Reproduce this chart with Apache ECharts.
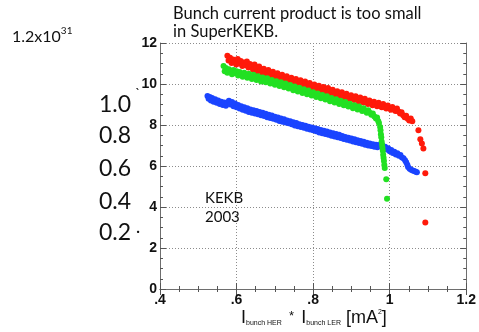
<!DOCTYPE html>
<html>
<head>
<meta charset="utf-8">
<script src="https://cdn.jsdelivr.net/npm/echarts@6/dist/echarts.min.js"></script>
<style>
html,body{margin:0;padding:0;background:#fff;}
#c{width:479px;height:332px;}
</style>
</head>
<body>
<div id="c"></div>
<script>
const titleLines = ['Bunch current product is too small', 'in SuperKEKB.'];
const unitMantissa = '1.2x10';
const unitExponent = '31';
const leftScaleLabels = ['1.0', '0.8', '0.6', '0.4', '0.2'];
const noteLines = ['KEKB', '2003'];
const xTickLabels = ['.4', '.6', '.8', '1', '1.2'];
const yTickLabels = ['0', '2', '4', '6', '8', '10', '12'];

const redData = [
[0.576,11.38],[0.579,11.15],[0.583,11.28],[0.587,11.02],[0.591,11.2],[0.595,11.08],[0.599,10.95],[0.603,11.22],[0.607,11.0],[0.611,11.12],
[0.615,10.88],[0.619,11.05],[0.623,10.92],[0.627,11.1],[0.631,10.8],[0.635,10.98],[0.639,10.86],[0.643,10.7],[0.647,10.95],[0.651,10.78],
[0.655,10.62],[0.659,10.85],[0.663,10.7],[0.667,10.55],[0.671,10.75],[0.675,10.6],[0.679,10.48],[0.683,10.68],[0.687,10.52],[0.691,10.4],
[0.695,10.6],[0.699,10.45],[0.703,10.32],[0.707,10.52],[0.711,10.38],[0.715,10.25],[0.719,10.45],[0.723,10.3],[0.727,10.18],[0.731,10.38],
[0.735,10.22],[0.739,10.12],[0.743,10.3],[0.747,10.15],[0.751,10.05],[0.755,10.25],[0.759,10.1],[0.763,9.98],[0.767,10.18],[0.771,10.02],
[0.775,9.92],[0.779,10.12],[0.783,9.96],[0.787,9.85],[0.791,10.05],[0.795,9.9],[0.799,9.8],[0.803,9.98],[0.807,9.84],[0.811,9.72],
[0.815,9.92],[0.819,9.78],[0.823,9.66],[0.827,9.85],[0.831,9.7],[0.835,9.6],[0.839,9.8],[0.843,9.64],[0.847,9.52],[0.851,9.72],
[0.855,9.58],[0.859,9.46],[0.863,9.65],[0.867,9.5],[0.871,9.4],[0.875,9.6],[0.879,9.45],[0.883,9.33],[0.887,9.52],[0.891,9.38],
[0.895,9.28],[0.899,9.45],[0.903,9.32],[0.907,9.22],[0.911,9.4],[0.915,9.26],[0.919,9.16],[0.923,9.34],[0.927,9.2],[0.931,9.1],
[0.935,9.28],[0.939,9.12],[0.943,9.02],[0.947,9.2],[0.951,9.06],[0.955,8.96],[0.959,9.14],[0.963,9.0],[0.967,8.92],[0.971,9.08],
[0.975,8.94],[0.979,8.86],[0.983,9.02],[0.987,8.88],[0.991,8.8],[0.995,8.95],[0.999,8.82],[1.003,8.74],[1.007,8.88],[1.011,8.76],
[1.015,8.68],[1.019,8.8],[1.023,8.66],[1.027,8.56],[1.031,8.62],[1.035,8.48],[1.039,8.38],[1.043,8.45],[1.047,8.3],[1.051,8.22],
[1.055,8.32],[1.059,8.18],
[1.075,7.75],[1.080,7.3],[1.084,7.1],[1.088,6.85],[1.093,5.65],[1.093,3.25]
];

const greenData = [
[0.566,10.88],[0.569,10.62],[0.572,10.78],[0.576,10.55],[0.580,10.72],[0.584,10.6],[0.588,10.48],[0.592,10.68],[0.596,10.52],[0.600,10.62],
[0.604,10.42],[0.608,10.58],[0.612,10.45],[0.616,10.35],[0.620,10.55],[0.624,10.4],[0.628,10.3],[0.632,10.5],[0.636,10.36],[0.640,10.25],
[0.644,10.45],[0.648,10.3],[0.652,10.2],[0.656,10.38],[0.660,10.24],[0.664,10.12],[0.668,10.32],[0.672,10.18],[0.676,10.08],[0.680,10.28],
[0.684,10.12],[0.688,10.02],[0.692,10.2],[0.696,10.06],[0.700,9.96],[0.704,10.14],[0.708,10.0],[0.712,9.9],[0.716,10.08],[0.720,9.94],
[0.724,9.84],[0.728,10.02],[0.732,9.88],[0.736,9.78],[0.740,9.95],[0.744,9.82],[0.748,9.7],[0.752,9.88],[0.756,9.74],[0.760,9.64],
[0.764,9.82],[0.768,9.68],[0.772,9.56],[0.776,9.74],[0.780,9.6],[0.784,9.5],[0.788,9.68],[0.792,9.54],[0.796,9.44],[0.800,9.6],
[0.804,9.46],[0.808,9.36],[0.812,9.54],[0.816,9.4],[0.820,9.3],[0.824,9.46],[0.828,9.34],[0.832,9.24],[0.836,9.4],[0.840,9.28],
[0.844,9.16],[0.848,9.32],[0.852,9.2],[0.856,9.1],[0.860,9.26],[0.864,9.12],[0.868,9.02],[0.872,9.18],[0.876,9.06],[0.880,8.96],
[0.884,9.12],[0.888,8.98],[0.892,8.9],[0.896,9.04],[0.900,8.92],[0.904,8.82],[0.908,8.96],[0.912,8.86],[0.916,8.76],[0.920,8.9],
[0.924,8.78],[0.928,8.68],[0.932,8.82],[0.936,8.7],[0.940,8.6],[0.944,8.72],[0.948,8.6],[0.952,8.5],[0.956,8.56],[0.960,8.42],
[0.964,8.32],[0.967,8.36],[0.970,8.2],[0.972,8.1],
[0.975,7.9],[0.976,7.75],[0.977,7.55],[0.978,7.4],[0.979,7.2],[0.980,7.05],[0.981,6.9],[0.982,6.75],[0.983,6.55],[0.984,6.4],
[0.985,6.25],[0.986,6.05],[0.987,5.9],[0.991,5.35],[0.993,4.4]
];

const blueData = [
[0.524,9.42],[0.527,9.28],[0.530,9.36],[0.533,9.2],[0.536,9.32],[0.540,9.14],[0.544,9.26],[0.548,9.08],[0.552,9.2],[0.556,9.02],
[0.560,9.14],[0.564,8.98],[0.568,9.1],[0.572,8.94],[0.576,9.08],[0.580,9.18],[0.584,9.0],[0.588,9.12],[0.592,8.92],[0.596,9.05],
[0.600,8.86],[0.604,8.98],[0.608,8.8],[0.612,8.92],[0.616,8.74],[0.620,8.86],[0.624,8.7],[0.628,8.82],[0.632,8.64],[0.636,8.76],
[0.640,8.6],[0.644,8.72],[0.648,8.56],[0.652,8.68],[0.656,8.52],[0.660,8.64],[0.664,8.48],[0.668,8.6],[0.672,8.44],[0.676,8.55],
[0.680,8.38],[0.684,8.5],[0.688,8.34],[0.692,8.46],[0.696,8.3],[0.700,8.4],[0.704,8.26],[0.708,8.36],[0.712,8.2],[0.716,8.32],
[0.720,8.16],[0.724,8.28],[0.728,8.12],[0.732,8.22],[0.736,8.08],[0.740,8.18],[0.744,8.04],[0.748,8.14],[0.752,7.98],[0.756,8.1],
[0.760,7.94],[0.764,8.04],[0.768,7.9],[0.772,8.0],[0.776,7.86],[0.780,7.96],[0.784,7.82],[0.788,7.92],[0.792,7.78],[0.796,7.88],
[0.800,7.74],[0.804,7.84],[0.808,7.7],[0.812,7.8],[0.816,7.64],[0.820,7.76],[0.824,7.6],[0.828,7.72],[0.832,7.56],[0.836,7.68],
[0.840,7.52],[0.844,7.64],[0.848,7.48],[0.852,7.6],[0.856,7.44],[0.860,7.56],[0.864,7.4],[0.868,7.52],[0.872,7.36],[0.876,7.46],
[0.880,7.32],[0.884,7.42],[0.888,7.28],[0.892,7.38],[0.896,7.24],[0.900,7.34],[0.904,7.2],[0.908,7.3],[0.912,7.16],[0.916,7.26],
[0.920,7.12],[0.924,7.22],[0.928,7.08],[0.932,7.18],[0.936,7.04],[0.940,7.14],[0.944,7.0],[0.948,7.1],[0.952,6.98],[0.956,7.06],
[0.960,6.94],[0.964,7.04],[0.968,6.92],[0.972,7.02],[0.976,6.96],[0.980,7.04],[0.984,6.88],[0.988,6.94],[0.992,6.8],[0.996,6.86],
[1.000,6.72],[1.004,6.78],[1.008,6.64],[1.012,6.7],[1.016,6.56],[1.020,6.62],[1.024,6.5],[1.028,6.54],[1.032,6.42],[1.036,6.38],
[1.040,6.28],[1.043,6.18],[1.046,6.06],[1.048,5.95],[1.052,5.86],[1.056,5.82],[1.060,5.78],[1.064,5.76],[1.068,5.72],[1.071,5.7]
];

const chart = echarts.init(document.getElementById('c'), null, {renderer: 'canvas'});

const axisColor = '#6e6e6e';
const tickColor = '#555555';
const gridColor = '#8c8c8c';
const tickFont = {fontFamily: 'Liberation Sans', fontSize: 14, color: '#111', fontWeight: 'bold'};
const cal = 'Lato';
const lib = 'Liberation Sans';

function frameAxis(extra) {
  return Object.assign({
    axisLine: {show: true, lineStyle: {color: axisColor, width: 1}},
    axisTick: {show: true, inside: true, length: 6, lineStyle: {color: tickColor, width: 1}},
    minorTick: {show: true, splitNumber: 4, length: 3, lineStyle: {color: tickColor, width: 1}},
    splitLine: {show: false}
  }, extra);
}

const leftScaleGraphics = leftScaleLabels.map((t, i) => ({
  type: 'text', left: 99, top: [93, 124, 157, 190, 221][i],
  style: {text: t, font: '23px ' + cal, fill: '#111'}
}));

chart.setOption({
  animation: false,
  grid: {left: 160, right: 11, top: 43, bottom: 43},
  xAxis: [
    frameAxis({
      type: 'value', min: 0.4, max: 1.2, interval: 0.2, position: 'bottom',
      axisLabel: Object.assign({margin: 4, formatter: (v) => xTickLabels[Math.round((v - 0.4) / 0.2)]}, tickFont),
      splitLine: {show: true, lineStyle: {type: [1, 2], color: gridColor, width: 1}}
    }),
    frameAxis({
      type: 'value', min: 0.4, max: 1.2, interval: 0.2, position: 'top',
      axisLabel: {show: false}
    })
  ],
  yAxis: [
    frameAxis({
      type: 'value', min: 0, max: 12, interval: 2, position: 'left',
      axisLabel: Object.assign({margin: 3, formatter: (v) => yTickLabels[Math.round(v / 2)]}, tickFont),
      splitLine: {show: true, lineStyle: {type: [1, 2], color: gridColor, width: 1}}
    }),
    frameAxis({
      type: 'value', min: 0, max: 12, interval: 2, position: 'right',
      axisLabel: {show: false}
    })
  ],
  series: [
    {type: 'scatter', data: blueData, symbolSize: 6, itemStyle: {color: '#1a44ff', opacity: 1}},
    {type: 'scatter', data: redData, symbolSize: 6, itemStyle: {color: '#ff1a0a', opacity: 1}},
    {type: 'scatter', data: greenData, symbolSize: 6, itemStyle: {color: '#22e022', opacity: 1}}
  ],
  graphic: [
    {type: 'text', left: 173, top: 5, style: {text: titleLines.join('\n'), font: '16.5px ' + cal, fill: '#111', lineHeight: 18}},
    {type: 'text', left: 12, top: 26, style: {
      text: '{a|' + unitMantissa + '}{b|' + unitExponent + '}',
      rich: {
        a: {font: '16px ' + cal, fill: '#111', lineHeight: 19, verticalAlign: 'bottom'},
        b: {font: '10px ' + cal, fill: '#111', lineHeight: 19, verticalAlign: 'top'}
      }
    }},
    {type: 'text', left: 241, top: 307, style: {
      text: '{i|I}{s|bunch HER}{m|  *  }{i|I}{s|bunch LER}{i| [mA}{sup|2}{i|]}',
      rich: {
        i: {font: '18px ' + lib, fill: '#111', lineHeight: 20, verticalAlign: 'bottom'},
        m: {font: '13px ' + lib, fill: '#111', lineHeight: 20, verticalAlign: 'top', padding: [3, 0, 0, 0]},
        s: {font: '7px ' + lib, fill: '#111', lineHeight: 20, verticalAlign: 'bottom'},
        sup: {font: '7px ' + lib, fill: '#111', lineHeight: 20, verticalAlign: 'top', padding: [2, 0, 0, 0]}
      }
    }},
    ...leftScaleGraphics,
    {type: 'text', left: 135, top: 86, style: {text: '`', font: '14px ' + cal, fill: '#111'}},
    {type: 'text', left: 136, top: 223, style: {text: '·', font: '16px ' + cal, fill: '#111'}},
    {type: 'text', left: 205, top: 189, style: {text: noteLines.join('\n'), font: '15px ' + cal, fill: '#111', lineHeight: 19}}
  ]
});
</script>
</body>
</html>
